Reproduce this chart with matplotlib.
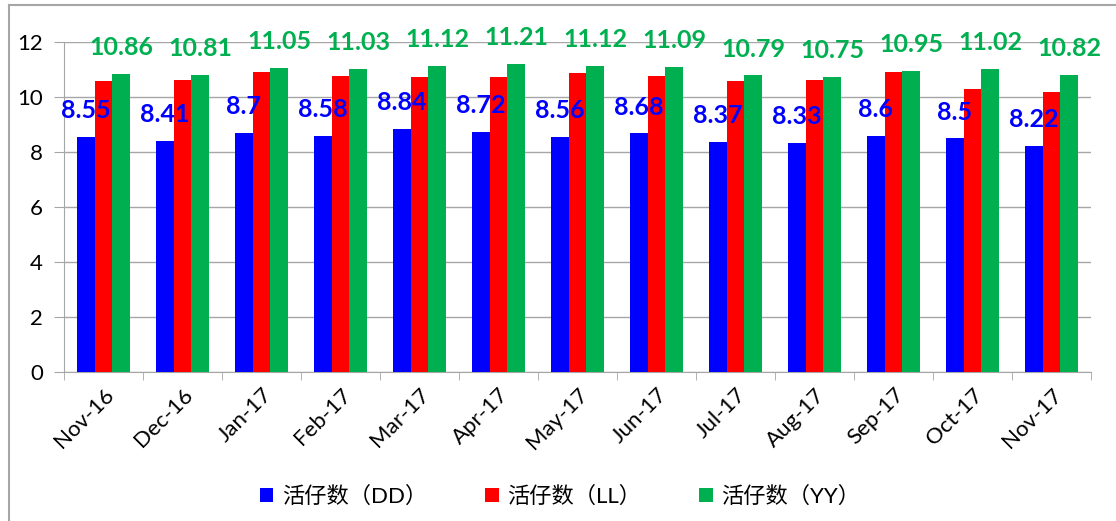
import numpy as np
import matplotlib.pyplot as plt

months = ["Nov-16", "Dec-16", "Jan-17", "Feb-17", "Mar-17", "Apr-17", "May-17",
          "Jun-17", "Jul-17", "Aug-17", "Sep-17", "Oct-17", "Nov-17"]
dd = [8.55, 8.41, 8.7, 8.58, 8.84, 8.72, 8.56, 8.68, 8.37, 8.33, 8.6, 8.5, 8.22]
ll = [10.60, 10.62, 10.90, 10.78, 10.72, 10.75, 10.88, 10.77, 10.60, 10.63, 10.90, 10.28, 10.20]
yy = [10.86, 10.81, 11.05, 11.03, 11.12, 11.21, 11.12, 11.09, 10.79, 10.75, 10.95, 11.02, 10.82]
names = ["活仔数（DD）", "活仔数（LL）", "活仔数（YY）"]

fonts = ["Lato", "Noto Sans CJK SC", "DejaVu Sans"]
plt.rcParams["font.family"] = fonts

fig = plt.figure(figsize=(11.16, 5.21), dpi=100)
ax = fig.add_axes([0.0573, 0.286, 0.9203, 0.633])

x = np.arange(len(months))
w = 0.222
ax.bar(x - w, dd, w, color="#0000FF", label=names[0], zorder=3)
ax.bar(x, ll, w, color="#FF0000", label=names[1], zorder=3)
ax.bar(x + w, yy, w, color="#00B050", label=names[2], zorder=3)

for xi, v in zip(x, dd):
    ax.annotate(f"{v:g}", (xi - w, v), xytext=(0, 19), textcoords="offset points",
                ha="center", va="center", color="#0000FF", fontsize=18,
                fontweight="bold", zorder=4)
for xi, v in zip(x, yy):
    ax.annotate(f"{v:.2f}", (xi + w, v), xytext=(0, 19), textcoords="offset points",
                ha="center", va="center", color="#00B050", fontsize=18,
                fontweight="bold", zorder=4, annotation_clip=False)

ax.set_xlim(-0.5, len(months) - 0.5)
ax.set_ylim(0, 12)
ax.set_yticks(range(0, 13, 2))
ax.yaxis.grid(True, color="#A6A6A6", linewidth=1, zorder=0)

ax.set_xticks(x)
ax.set_xticklabels(months, rotation=45, ha="right", rotation_mode="anchor")
ax.set_xticks(np.arange(-0.5, len(months), 1), minor=True)
ax.tick_params(axis="x", which="major", length=0, labelsize=16, pad=9)
ax.tick_params(axis="x", which="minor", length=6, color="#A6A6A6", direction="out")
ax.tick_params(axis="y", length=7, color="#A6A6A6", labelsize=16, pad=8)

for s in ["top", "right"]:
    ax.spines[s].set_visible(False)
for s in ["left", "bottom"]:
    ax.spines[s].set_color("#A6A6A6")

fig.legend(loc="center", bbox_to_anchor=(0.502, 0.048), ncol=3, frameon=False,
           fontsize=16, handlelength=0.6, handleheight=0.6, columnspacing=2.6,
           handletextpad=0.4)

# outer frame (top and left edges)
fig.add_artist(plt.Line2D([0.008, 0.008], [0, 0.99], color="#A6A6A6", lw=1.5))
fig.add_artist(plt.Line2D([0.008, 1], [0.99, 0.99], color="#A6A6A6", lw=1.5))

fig.savefig("out.png", dpi=100)
